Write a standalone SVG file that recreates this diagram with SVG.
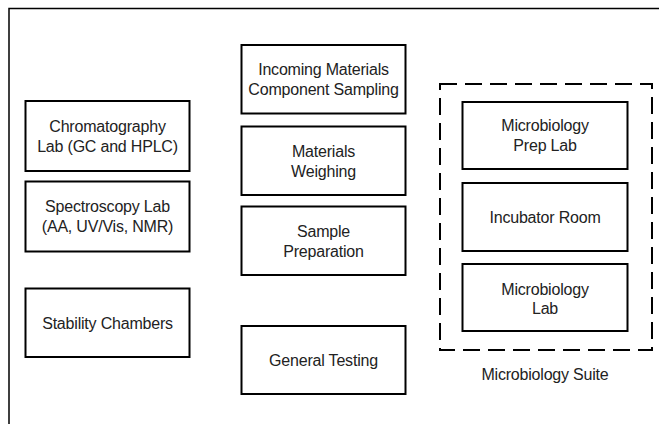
<svg xmlns="http://www.w3.org/2000/svg" width="659" height="424" viewBox="0 0 659 424">
<style>
.bx{fill:#fff;stroke:#000;stroke-width:2}
.t{font-family:"Liberation Sans",Arial,sans-serif;font-size:16px;letter-spacing:-0.2px;fill:#222;text-anchor:middle}
.dash{fill:none;stroke:#000;stroke-width:2;stroke-dasharray:17 8}
.frame{fill:none;stroke:#000;stroke-width:1.5}
</style>
<rect width="659" height="424" fill="#fff"/>
<path class="frame" d="M9,424 V8.5 H659"/>
<g id="microbiology-suite">
<rect class="dash" x="440" y="84" width="212" height="266"/>
<text class="t" x="545" y="379.5">Microbiology Suite</text>
</g>
<g id="chromatography">
<rect class="bx" x="25.5" y="101" width="164" height="70"/>
<text class="t" x="107.5" y="131.5">Chromatography</text>
<text class="t" x="107.5" y="151.5">Lab (GC and HPLC)</text>
</g>
<g id="spectroscopy">
<rect class="bx" x="25.5" y="181.5" width="164" height="70"/>
<text class="t" x="107.5" y="212">Spectroscopy Lab</text>
<text class="t" x="107.5" y="232">(AA, UV/Vis, NMR)</text>
</g>
<g id="stability">
<rect class="bx" x="25.5" y="288.5" width="164" height="68.5"/>
<text class="t" x="107.5" y="328.5">Stability Chambers</text>
</g>
<g id="incoming">
<rect class="bx" x="241.5" y="45" width="164" height="68.5"/>
<text class="t" x="323.5" y="75">Incoming Materials</text>
<text class="t" x="323.5" y="95">Component Sampling</text>
</g>
<g id="weighing">
<rect class="bx" x="241.5" y="126.5" width="164" height="68.5"/>
<text class="t" x="323.5" y="156.5">Materials</text>
<text class="t" x="323.5" y="176.5">Weighing</text>
</g>
<g id="sample-prep">
<rect class="bx" x="241.5" y="206.5" width="164" height="68.5"/>
<text class="t" x="323.5" y="236.5">Sample</text>
<text class="t" x="323.5" y="256.5">Preparation</text>
</g>
<g id="general-testing">
<rect class="bx" x="241.5" y="326" width="164" height="68"/>
<text class="t" x="323.5" y="365.5">General Testing</text>
</g>
<g id="micro-prep">
<rect class="bx" x="462.5" y="102" width="165" height="67"/>
<text class="t" x="545" y="131">Microbiology</text>
<text class="t" x="545" y="151">Prep Lab</text>
</g>
<g id="incubator">
<rect class="bx" x="462.5" y="183" width="165" height="68"/>
<text class="t" x="545" y="222.5">Incubator Room</text>
</g>
<g id="micro-lab">
<rect class="bx" x="462.5" y="264" width="165" height="67"/>
<text class="t" x="545" y="294.5">Microbiology</text>
<text class="t" x="545" y="314">Lab</text>
</g>
<g id="connectors"></g>
</svg>
